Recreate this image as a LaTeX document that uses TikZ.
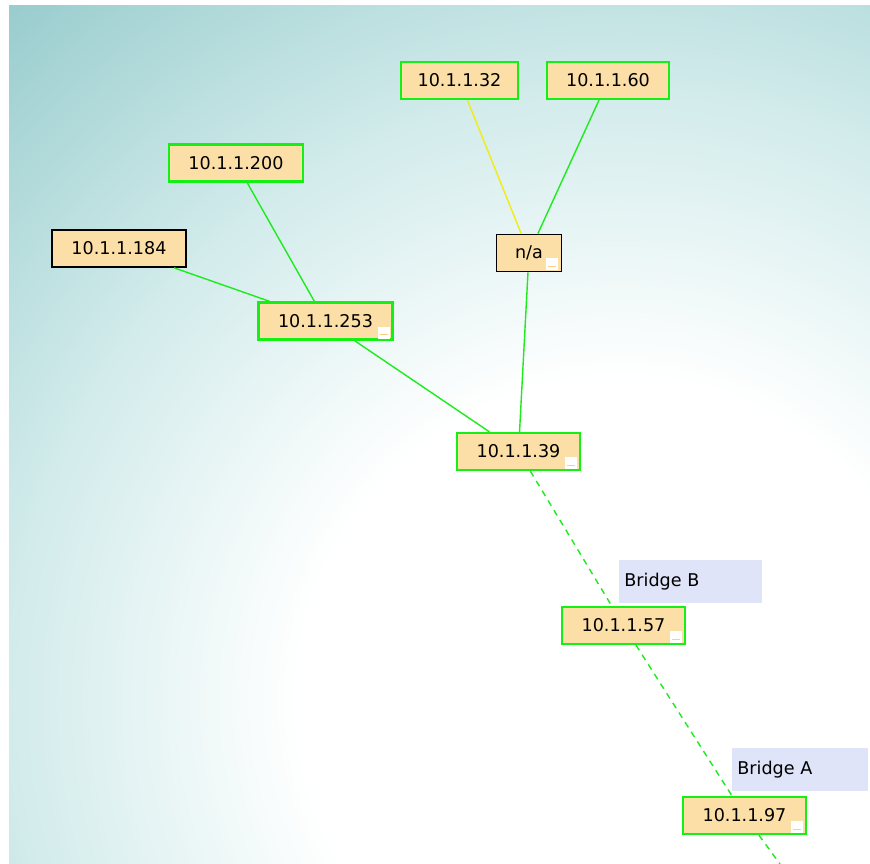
\documentclass[tikz,border=0pt]{standalone}
\usepackage{fontspec}
\newfontfamily\netfont{DejaVu Sans}
\usepackage{xcolor}
\usepackage{tikz}
\usetikzlibrary{positioning}

\definecolor{hostfill}{RGB}{252,223,166}
\definecolor{linkgreen}{RGB}{30,235,30}
\definecolor{boxgreen}{RGB}{20,240,20}
\definecolor{linkyellow}{RGB}{240,236,20}
\definecolor{bridgefill}{RGB}{224,228,248}
\definecolor{bgteal}{RGB}{154,205,206}
\definecolor{bgmid}{RGB}{212,236,236}
\pgfdeclareradialshading{netbg}{\pgfpoint{0bp}{0bp}}{color(0bp)=(white); color(8bp)=(white); color(15bp)=(bgmid); color(23bp)=(bgteal); color(50bp)=(bgteal)}
\newcommand{\minusbox}[1]{%
  \fill[white]([shift={(-16,-2)}]#1.south east) rectangle +(12,-12);
  \draw[hostfill!80!orange,line width=0.6pt]([shift={(-14,-6)}]#1.south east) -- +(8,0);}

\begin{document}
\begin{tikzpicture}[x=0.02cm,y=-0.02cm,
  host/.style={rectangle,draw=boxgreen,line width=1.3pt,fill=hostfill,minimum width=2.46cm,minimum height=0.74cm,inner sep=0pt,font=\netfont},
  down/.style={host,draw=black,line width=1pt},
  wide/.style={minimum width=2.68cm},
  bridge/.style={rectangle,fill=bridgefill,anchor=north west,minimum height=0.86cm,text width=2.66cm,inner xsep=0.1cm,align=left,font=\netfont},
  link/.style={draw=linkgreen,line width=0.8pt},
  weak/.style={link,draw=linkyellow},
  hop/.style={link,dash pattern=on 3.5pt off 3pt}]
  % background
  \useasboundingbox (0,0) rectangle (870,864);
  \begin{scope}
    \clip (9,6) rectangle (870,864);
    \shade[shading=netbg] (620,700) circle[radius=20cm];
  \end{scope}
  % hosts
  \node[host,minimum width=2.34cm](ip32) at (459.5,80.5){10.1.1.32};
  \node[host,minimum width=2.44cm](ip60) at (608,80.5){10.1.1.60};
  \node[down,minimum width=1.3cm](na) at (529,253){n/a};
  \node[host,wide](ip200) at (236,163){10.1.1.200};
  \node[down,wide](ip184) at (119,248.5){10.1.1.184};
  \node[host,wide](ip253) at (325.5,321){10.1.1.253};
  \node[host](ip39) at (518.5,451.5){10.1.1.39};
  \node[host](ip57) at (623.5,625.5){10.1.1.57};
  \node[host](ip97) at (744.5,815.5){10.1.1.97};
  \node[bridge](bridgeB) at (619,560){Bridge B};
  \node[bridge,text width=2.52cm](bridgeA) at (732,748){Bridge A};
  \coordinate (next) at (780,864);
  % links
  \draw[weak](ip32)--(na);\draw[link](ip60)--(na);\draw[link](na)--(ip39);
  \draw[link](ip200)--(ip253);\draw[link](ip184)--(ip253);\draw[link](ip253)--(ip39);
  \draw[hop](ip39)--(ip57);\draw[hop](ip57)--(ip97);\draw[hop](ip97)--(next);
  % collapse buttons
  \minusbox{ip253}\minusbox{na}\minusbox{ip39}\minusbox{ip57}\minusbox{ip97}
\end{tikzpicture}
\end{document}
